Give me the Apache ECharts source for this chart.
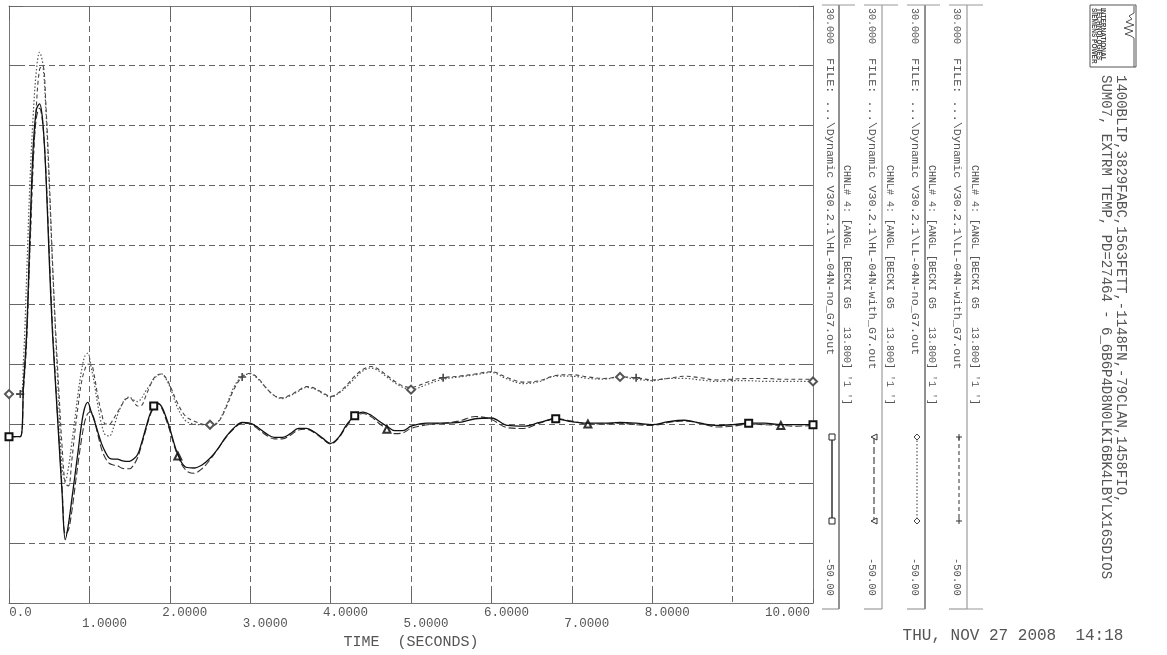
<!DOCTYPE html>
<html><head><meta charset="utf-8">
<script src="https://cdn.jsdelivr.net/npm/echarts@6/dist/echarts.min.js"></script>
<style>html,body{margin:0;padding:0;background:#fff}#c{width:1167px;height:655px}</style>
</head><body><div id="c"></div>
<script>
// ---- data ----
const timeSec = [0,0.14,0.18,0.22,0.26,0.30,0.34,0.38,0.42,0.46,0.50,0.54,0.58,0.62,0.66,0.70,0.74,0.78,0.82,0.86,0.90,0.94,0.98,1.02,1.06,1.10,1.15,1.20,1.25,1.30,1.35,1.40,1.45,1.50,1.55,1.60,1.65,1.70,1.75,1.80,1.85,1.90,1.95,2.0,2.1,2.2,2.3,2.4,2.5,2.6,2.7,2.8,2.9,3.0,3.1,3.2,3.3,3.4,3.5,3.6,3.7,3.8,3.9,4.0,4.1,4.2,4.3,4.4,4.5,4.6,4.7,4.8,4.9,5.0,5.2,5.4,5.6,5.8,6.0,6.2,6.4,6.6,6.8,7.0,7.2,7.4,7.6,7.8,8.0,8.2,8.4,8.6,8.8,9.0,9.2,9.4,9.6,9.8,10.0];

const hlNoG7 = [-27.7,-27.7,-20.8,-13.7,-0.6,10.9,16.1,16.9,14.5,7.2,-3.9,-13.6,-20.9,-28.1,-35.2,-41.5,-39.4,-36.2,-32.9,-29.6,-26.2,-23.9,-23.1,-24.3,-25.5,-26.9,-28.6,-29.8,-30.6,-30.7,-30.7,-30.9,-31.0,-31.0,-30.7,-30.1,-28.5,-26.6,-24.8,-23.6,-23.2,-23.7,-25.0,-26.6,-30.1,-31.8,-31.9,-31.5,-30.6,-29.3,-27.7,-26.5,-25.8,-25.9,-26.5,-27.3,-27.8,-27.8,-27.3,-26.6,-26.6,-27.1,-27.9,-28.6,-27.8,-26.1,-24.9,-24.4,-24.8,-25.6,-26.3,-26.9,-26.9,-26.3,-25.9,-25.9,-25.8,-25.3,-25.2,-26.2,-26.3,-25.8,-25.3,-25.7,-25.9,-25.9,-25.8,-25.9,-26.1,-25.7,-25.5,-25.9,-26.2,-26.1,-25.9,-25.9,-26.1,-26.1,-26.1];

const hlWithG7 = [-27.7,-27.7,-21.5,-14.8,-2.0,9.2,15.0,16.3,14.2,7.5,-2.8,-12.8,-20.5,-27.6,-34.5,-40.8,-40.2,-37.8,-34.5,-31.2,-28.2,-25.8,-24.6,-24.4,-25.4,-27.2,-29.3,-30.6,-31.3,-31.5,-31.6,-31.9,-32.0,-32.0,-31.5,-30.5,-28.8,-26.9,-25.0,-23.8,-23.3,-23.9,-25.3,-26.9,-30.3,-32.2,-32.6,-32.0,-30.8,-29.3,-27.8,-26.6,-25.9,-26.0,-26.7,-27.5,-28.0,-28.0,-27.5,-26.8,-26.7,-27.2,-28.0,-28.7,-27.9,-26.3,-25.1,-24.6,-25.0,-25.9,-26.7,-27.3,-27.2,-26.6,-26.1,-25.9,-25.6,-25.0,-25.4,-26.5,-26.6,-25.9,-25.3,-25.6,-26.0,-26.0,-25.9,-26.1,-26.2,-25.8,-25.6,-25.9,-26.4,-26.3,-26.0,-26.1,-26.2,-26.3,-26.2];

const llNoG7 = [-22.0,-22.0,-17.5,-6.0,6.3,15.2,21.3,23.8,22.3,15.8,6.2,-4.5,-14.2,-23.5,-31.8,-33.6,-31.8,-28.6,-25.3,-21.8,-19.0,-17.0,-16.5,-18.3,-20.5,-23.2,-26.0,-27.5,-27.6,-26.5,-24.8,-23.5,-22.6,-22.4,-22.8,-23.0,-22.5,-21.6,-20.8,-20.0,-19.5,-19.3,-19.9,-21.0,-23.9,-25.6,-26.0,-26.1,-26.1,-25.7,-23.6,-21.0,-19.6,-19.3,-20.0,-21.2,-22.2,-22.6,-22.2,-21.6,-21.1,-21.3,-21.9,-22.4,-21.9,-21.0,-19.9,-18.9,-18.5,-18.9,-19.7,-20.5,-21.1,-21.4,-20.7,-20.0,-19.7,-19.4,-19.1,-20.0,-20.6,-20.3,-19.6,-19.6,-19.9,-20.0,-19.7,-20.0,-20.2,-19.9,-19.9,-20.1,-20.3,-20.2,-20.2,-20.3,-20.3,-20.3,-20.3];

const llWithG7 = [-22.0,-22.0,-20.5,-13.5,-3.0,8.5,16.5,21.5,22.0,16.5,7.0,-4.0,-13.5,-21.5,-29.0,-34.0,-34.3,-31.0,-27.0,-23.5,-20.5,-18.8,-18.0,-18.0,-19.5,-22.0,-24.5,-26.0,-26.0,-25.3,-24.4,-23.5,-22.7,-22.5,-23.0,-23.6,-23.5,-22.3,-21.0,-19.9,-19.4,-19.3,-19.8,-20.8,-23.3,-25.0,-25.6,-26.0,-26.3,-25.8,-23.8,-21.3,-19.7,-19.2,-19.9,-21.2,-22.2,-22.5,-22.1,-21.5,-21.0,-21.2,-21.8,-22.3,-21.8,-20.8,-19.6,-18.7,-18.3,-18.7,-19.5,-20.3,-20.9,-21.1,-20.4,-19.8,-19.6,-19.3,-19.0,-19.8,-20.4,-20.2,-19.5,-19.4,-19.7,-19.9,-19.7,-19.8,-20.1,-19.9,-19.6,-19.8,-20.1,-20.0,-19.9,-19.9,-20.0,-20.0,-20.0];

// times at which each curve carries its identifying marker
const markHlNo = [0, 1.8, 4.3, 6.8, 9.2, 10];
const markHlWith = [2.1, 4.7, 7.2, 9.6];
const markLlNo = [0, 2.5, 5.0, 7.6, 10];
const markLlWith = [0.14, 2.9, 5.4, 7.8];

const xTickLabels = ['0.0','1.0000','2.0000','3.0000','4.0000','5.0000','6.0000','7.0000','8.0000','9.0000','10.000'];
const yMin = -50, yMax = 30, yStep = 8;
const xMin = 0, xMax = 10, xStep = 1;

const scaleTop = ['30.000','30.000','30.000','30.000'];
const scaleBottom = ['-50.00','-50.00','-50.00','-50.00'];
const fileNames = [
  'FILE: ...\\Dynamic V30.2.1\\HL-04N-no_G7.out',
  'FILE: ...\\Dynamic V30.2.1\\HL-04N-with_G7.out',
  'FILE: ...\\Dynamic V30.2.1\\LL-04N-no_G7.out',
  'FILE: ...\\Dynamic V30.2.1\\LL-04N-with_G7.out'
];
const channelNames = [
  "CHNL# 4: [ANGL [BECKI G5   13.800] '1 ']",
  "CHNL# 4: [ANGL [BECKI G5   13.800] '1 ']",
  "CHNL# 4: [ANGL [BECKI G5   13.800] '1 ']",
  "CHNL# 4: [ANGL [BECKI G5   13.800] '1 ']"
];
const titleLine1 = 'SUM07, EXTRM TEMP, PD=27464 - 6_6B6P4D8N0LKI6BK4LBYLX16SDIOS';
const titleLine2 = '1400BLIP,3829FABC,1563FETT,-1148FN,-79CLAN,1458FIO,';
const logoLines = ['SIEMENS POWER','TECHNOLOGIES','INTERNATIONAL'];
const dateText = 'THU, NOV 27 2008  14:18';

// ---- styles ----
const MONO = '"Liberation Mono", "DejaVu Sans Mono", monospace';
const TXT = '#555';
const PLUS = 'path://M4,0H6V4H10V6H6V10H4V6H0V4H4Z';
const seriesDefs = [
  {name:'HL-04N-no_G7', vals: hlNoG7, marks: markHlNo, symbol:'emptyRect', size:7, color:'#111', width:1.3, dash:'solid'},
  {name:'HL-04N-with_G7', vals: hlWithG7, marks: markHlWith, symbol:'emptyTriangle', size:7, color:'#333', width:1.1, dash:[7,3]},
  {name:'LL-04N-no_G7', vals: llNoG7, marks: markLlNo, symbol:'emptyDiamond', size:8, color:'#555', width:1.2, dash:[1.5,2]},
  {name:'LL-04N-with_G7', vals: llWithG7, marks: markLlWith, symbol: PLUS, size:8, color:'#444', width:1.1, dash:[4,3]}
];

function buildData(vals, marks, symbol, size) {
  return timeSec.map((t, i) => {
    const item = {value: [t, vals[i]]};
    if (marks.some(m => Math.abs(m - t) < 1e-6)) { item.symbol = symbol; item.symbolSize = size; }
    return item;
  });
}

const series = seriesDefs.map((d, k) => ({
  type: 'line', name: d.name, xAxisIndex: 0, yAxisIndex: 0,
  data: buildData(d.vals, d.marks, d.symbol, d.size),
  smooth: 0.35, symbol: 'none', showSymbol: true,
  lineStyle: {color: d.color, width: d.width, type: d.dash},
  itemStyle: {color: d.color, borderWidth: 1},
  z: 10 - k, animation: false, clip: true
}));

// ---- side panel graphics ----
const graphics = [];
const colX = [830, 872, 915, 957];
const sepX = [839, 882, 925, 967];
const chnlX = [847, 890, 932, 975];
const sepColor = ['#222', '#888', '#222', '#888'];
function vtext(text, x, y, size, fill) {
  return {type:'text', x: x, y: y, rotation: -Math.PI/2, silent: true,
    style: {text: text, x: 0, y: 0, align: 'left', verticalAlign: 'middle', font: size + 'px ' + MONO, fill: fill || TXT}};
}
seriesDefs.forEach((d, i) => {
  graphics.push(vtext(scaleTop[i], colX[i], 8, 10, TXT));
  graphics.push(vtext(fileNames[i], colX[i], 58, 11.8, TXT));
  graphics.push(vtext(scaleBottom[i], colX[i], 558, 10.5, TXT));
  graphics.push(vtext(channelNames[i], chnlX[i], 165, 10, TXT));
  graphics.push({type:'line', silent:true, shape:{x1:sepX[i], y1:5, x2:sepX[i], y2:609}, style:{stroke: sepColor[i], lineWidth:1}});
  graphics.push({type:'line', silent:true, shape:{x1:colX[i]-8, y1:609, x2:sepX[i], y2:609}, style:{stroke:'#888', lineWidth:1}});
  graphics.push({type:'line', silent:true, shape:{x1:colX[i]-8, y1:5, x2:chnlX[i]+8, y2:5}, style:{stroke:'#999', lineWidth:1}});
  const lx = colX[i] + 2, y1 = 437, y2 = 521;
  graphics.push({type:'line', silent:true, shape:{x1:lx, y1:y1, x2:lx, y2:y2}, style:{stroke: d.color, lineWidth: d.width, lineDash: d.dash === 'solid' ? null : d.dash}});
  [y1, y2].forEach(yy => {
    if (i === 0) graphics.push({type:'rect', silent:true, shape:{x:lx-3, y:yy-3, width:6, height:6}, style:{fill:'#fff', stroke:'#222', lineWidth:1}});
    if (i === 1) graphics.push({type:'polygon', silent:true, shape:{points:[[lx-3,yy],[lx+3,yy-3],[lx+3,yy+3]]}, style:{fill:'#fff', stroke:'#333', lineWidth:1}});
    if (i === 2) graphics.push({type:'polygon', silent:true, shape:{points:[[lx,yy-3],[lx+3,yy],[lx,yy+3],[lx-3,yy]]}, style:{fill:'#fff', stroke:'#444', lineWidth:1}});
    if (i === 3) {
      graphics.push({type:'line', silent:true, shape:{x1:lx-3, y1:yy, x2:lx+3, y2:yy}, style:{stroke:'#333', lineWidth:1}});
      graphics.push({type:'line', silent:true, shape:{x1:lx, y1:yy-3, x2:lx, y2:yy+3}, style:{stroke:'#333', lineWidth:1}});
    }
  });
});
graphics.push({type:'line', silent:true, shape:{x1:967, y1:609, x2:983, y2:609}, style:{stroke:'#999', lineWidth:1}});
// title
graphics.push(vtext(titleLine1, 1106, 75, 14, '#555'));
graphics.push(vtext(titleLine2, 1121, 75, 14, '#555'));
// logo
graphics.push({type:'rect', silent:true, shape:{x:1090, y:5, width:46, height:62}, style:{fill:'none', stroke:'#555', lineWidth:1}});
graphics.push({type:'polyline', silent:true, shape:{points:[[1134,67],[1134,38],[1131,36],[1125,34],[1133,31],[1124,28],[1134,25],[1126,22],[1132,19],[1129,16],[1134,13],[1134,6]]}, style:{stroke:'#555', lineWidth:1, fill:null}});
logoLines.forEach((s, j) => {
  graphics.push({type:'text', x: 1094 + j*4.6, y: 8, rotation: -Math.PI/2, silent:true,
    style:{text:s, x:0, y:0, align:'left', verticalAlign:'middle', font:'bold 6.5px "Liberation Sans", sans-serif', fill:'#444'}});
});
// date
graphics.push({type:'text', x: 1013, y: 636, silent:true, style:{text: dateText, x:0, y:0, align:'center', verticalAlign:'middle', font:'16px ' + MONO, fill:'#555'}});

// ---- chart ----
const gridLine = {show:true, lineStyle:{color:'#666', width:1, type:[6,4]}};
const axLine = {show:true, onZero:false, lineStyle:{color:'#777', width:1}};
const tick = {show:true, inside:true, length:14, lineStyle:{color:'#666', width:1}};
const richBase = {fontFamily: MONO, fontSize: 12.5, color: TXT};

const option = {
  animation: false,
  backgroundColor: '#fff',
  grid: {left: 9, top: 6, right: 354, bottom: 47, containLabel: false},
  xAxis: [
    {type:'value', min:xMin, max:xMax, interval:xStep, position:'bottom',
     axisLine: axLine, axisTick: tick, splitLine: gridLine,
     name: 'TIME  (SECONDS)', nameLocation: 'middle', nameGap: 29,
     nameTextStyle: {fontFamily: MONO, fontSize: 15, color: TXT},
     axisLabel: {show:true, margin: 3, showMinLabel:true, showMaxLabel:true,
       formatter: function (v) {
         const i = Math.round(v / xStep);
         const s = xTickLabels[i];
         if (i === 0) return '{first|' + s + '}';
         if (i === xTickLabels.length - 1) return '{last|' + s + '}';
         return (i % 2 ? '{dn|' : '{up|') + s + '}';
       },
       rich: {
         up: Object.assign({padding:[0,0,0,30]}, richBase),
         dn: Object.assign({padding:[11,0,0,30]}, richBase),
         first: Object.assign({padding:[0,0,0,23]}, richBase),
         last: Object.assign({padding:[0,51,0,0]}, richBase)
       }}},
    {type:'value', min:xMin, max:xMax, interval:xStep, position:'top',
     axisLine: axLine, axisTick: tick, splitLine:{show:false}, axisLabel:{show:false}}
  ],
  yAxis: [
    {type:'value', min:yMin, max:yMax, interval:yStep, position:'left',
     axisLine: axLine, axisTick: tick, splitLine: gridLine, axisLabel:{show:false}},
    {type:'value', min:yMin, max:yMax, interval:yStep, position:'right',
     axisLine: axLine, axisTick: tick, splitLine:{show:false}, axisLabel:{show:false}}
  ],
  series: series,
  graphic: graphics
};
const chart = echarts.init(document.getElementById('c'), null, {renderer:'canvas'});
chart.setOption(option);
</script>
</body></html>
